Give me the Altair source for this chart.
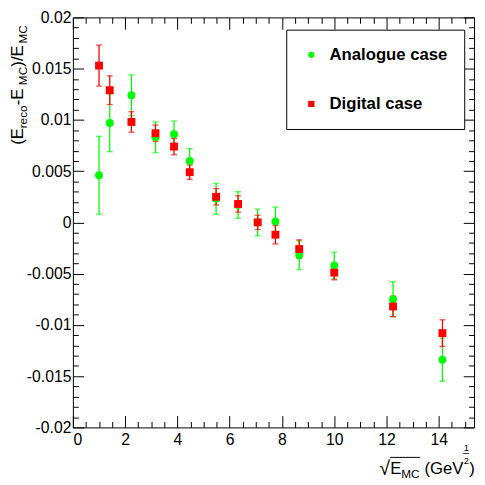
import altair as alt
import pandas as pd

# ---- data ----
x_vals = [1.0, 1.41, 2.24, 3.16, 3.87, 4.47, 5.48, 6.32, 7.07, 7.75, 8.66, 10.0, 12.25, 14.14]
analogue_val = [0.0046, 0.0097, 0.0124, 0.0083, 0.0086, 0.0060, 0.0023, 0.0017, 0.0000, 0.0001,
                -0.0032, -0.0042, -0.0075, -0.0134]
analogue_err = [0.0038, 0.0028, 0.0020, 0.0015, 0.0013, 0.0012, 0.0015, 0.0013, 0.0013, 0.0014,
                0.0014, 0.0013, 0.0017, 0.0021]
digital_val = [0.0153, 0.0129, 0.0098, 0.0087, 0.0074, 0.0049, 0.0025, 0.0018, 0.0000, -0.0012,
               -0.0026, -0.0049, -0.0082, -0.0108]
digital_err = [0.0020, 0.0014, 0.0010, 0.0008, 0.0008, 0.0007, 0.0008, 0.0008, 0.0007, 0.0009,
               0.0009, 0.0007, 0.0010, 0.0013]
series_names = ["Analogue case", "Digital case"]
series_colors = ["#00ff00", "#ff0000"]
series_shapes = ["circle", "square"]
x_major = [0, 2, 4, 6, 8, 10, 12, 14]
y_major = [-0.02, -0.015, -0.01, -0.005, 0, 0.005, 0.01, 0.015, 0.02]
x_ticks = [i * 0.5 for i in range(31)]
y_ticks = [round(-0.02 + i * 0.001, 3) for i in range(41)]

W, H = 408, 417
FONT = "Liberation Sans"


def frame(vals, errs, name):
    return pd.DataFrame({
        "x": x_vals,
        "v": vals,
        "lo": [v - e for v, e in zip(vals, errs)],
        "hi": [v + e for v, e in zip(vals, errs)],
        "series": name,
    })


green_df = frame(analogue_val, analogue_err, series_names[0])
red_df = frame(digital_val, digital_err, series_names[1])
all_df = pd.concat([green_df, red_df], ignore_index=True)

xs = alt.Scale(domain=[0, 15.35], nice=False, zero=False)
ys = alt.Scale(domain=[-0.02, 0.02], nice=False, zero=False)

common = dict(grid=False, domain=False, title=None)
x_tick_size = {"condition": {"test": "datum.value % 2 === 0", "value": 12}, "value": 6}
y_tick_size = {"condition": {"test": "abs(round(datum.value * 1000)) % 5 === 0", "value": 11}, "value": 5.5}
tick_style = dict(ticks=True, labels=False, tickColor="black", tickWidth=1)

ax_x_lab = alt.Axis(orient="bottom", values=x_major, ticks=False, labels=True, format="d",
                    labelFont=FONT, labelFontSize=16, labelColor="black", labelPadding=4, **common)
ax_x_in_bottom = alt.Axis(orient="top", offset=-H, values=x_ticks, tickSize=x_tick_size, **tick_style, **common)
ax_x_in_top = alt.Axis(orient="bottom", offset=-H, values=x_ticks, tickSize=x_tick_size, **tick_style, **common)

ax_y_lab = alt.Axis(orient="left", values=y_major, ticks=False, labels=True,
                    labelExpr="toString(datum.value)",
                    labelFont=FONT, labelFontSize=16, labelColor="black", labelPadding=2, **common)
ax_y_in_left = alt.Axis(orient="right", offset=-W, values=y_ticks, tickSize=y_tick_size, **tick_style, **common)
ax_y_in_right = alt.Axis(orient="left", offset=-W, values=y_ticks, tickSize=y_tick_size, **tick_style, **common)

GREEN, RED = series_colors

rules_g = alt.Chart(green_df).mark_rule(color=GREEN, strokeWidth=1.3).encode(
    x=alt.X("x:Q", scale=xs, axis=ax_x_lab),
    y=alt.Y("lo:Q", scale=ys, axis=ax_y_lab),
    y2="hi:Q",
)
caps_g = alt.Chart(green_df).transform_fold(["lo", "hi"], as_=["end", "yv"]).mark_tick(
    color=GREEN, orient="horizontal", size=6, thickness=1.3
).encode(
    x=alt.X("x:Q", scale=xs, axis=ax_x_in_bottom),
    y=alt.Y("yv:Q", scale=ys, axis=ax_y_in_left),
)
rules_r = alt.Chart(red_df).mark_rule(color=RED, strokeWidth=1.3).encode(
    x=alt.X("x:Q", scale=xs, axis=ax_x_in_top),
    y=alt.Y("lo:Q", scale=ys, axis=ax_y_in_right),
    y2="hi:Q",
)
caps_r = alt.Chart(red_df).transform_fold(["lo", "hi"], as_=["end", "yv"]).mark_tick(
    color=RED, orient="horizontal", size=6, thickness=1.3
).encode(
    x=alt.X("x:Q", scale=xs, axis=None),
    y=alt.Y("yv:Q", scale=ys, axis=None),
)

legend = alt.Legend(
    orient="none", legendX=217, legendY=12.5, title=None,
    fillColor="white", strokeColor="black", padding=17, rowPadding=32,
    symbolSize=40, symbolOffset=0, symbolStrokeWidth=0, labelOffset=10,
    labelFont=FONT, labelFontSize=17, labelFontWeight="bold", labelColor="black",
)
points = alt.Chart(all_df).mark_point(filled=True, size=64, opacity=1, strokeWidth=0).encode(
    x=alt.X("x:Q", scale=xs, axis=None),
    y=alt.Y("v:Q", scale=ys, axis=None),
    color=alt.Color("series:N", scale=alt.Scale(domain=series_names, range=series_colors), legend=legend),
    shape=alt.Shape("series:N", scale=alt.Scale(domain=series_names, range=series_shapes), legend=legend),
)


def txt(s, x, y, size, angle=0, align="left", baseline="alphabetic"):
    return alt.Chart(pd.DataFrame({"t": [s]})).mark_text(
        font=FONT, fontSize=size, angle=angle, align=align, baseline=baseline, color="black"
    ).encode(x=alt.value(x), y=alt.value(y), text="t:N")


OX, OY = 74, 13.5  # page position of plot origin
BIG, SUB = 17, 12
yb = 23 - OX      # baseline x of the rotated y title
ysb = yb + 4.5    # subscript baseline
y_title = [
    txt("(E", yb, 143 - OY, BIG, 270),
    txt("reco", ysb, 126.3 - OY, SUB, 270),
    txt(" -E", yb, 102.8 - OY, BIG, 270),
    txt("MC", ysb, 82.4 - OY, SUB, 270),
    txt(")/E", yb, 63.6 - OY, BIG, 270),
    txt("MC", ysb, 40 - OY, SUB, 270),
]

xb = 478 - OY
x_title = [
    txt("\u221a", 385.5 - OX, xb + 1, 20),
    txt("E", 396.7 - OX, xb, 17),
    txt("MC", 408 - OX, xb + 4, 12),
    txt("(GeV", 431.5 - OX, xb, 17),
    txt("1", 471.5 - OX, 455 - OY, 9.5),
    txt("2", 471.5 - OX, 468 - OY, 9.5),
    txt(")", 477 - OX, xb, 17),
]
overline = alt.Chart(pd.DataFrame({"t": [0]})).mark_rule(color="black", strokeWidth=1).encode(
    x=alt.value(396.5 - OX), x2=alt.value(427 - OX), y=alt.value(461 - OY)
)
frac_bar = alt.Chart(pd.DataFrame({"t": [0]})).mark_rule(color="black", strokeWidth=0.8).encode(
    x=alt.value(471 - OX), x2=alt.value(477 - OX), y=alt.value(457 - OY)
)

chart = alt.layer(
    rules_g, caps_g, rules_r, caps_r, points, *y_title, *x_title, overline, frac_bar
).resolve_axis(x="independent", y="independent").properties(
    width=W, height=H,
    autosize=alt.AutoSizeParams(type="none"),
    padding={"left": 66, "top": 5.5, "right": 3, "bottom": 54},
    background="white",
).configure_view(stroke="black", strokeWidth=1)

chart.save("out.html", embed_options={"renderer": "svg", "actions": False})
